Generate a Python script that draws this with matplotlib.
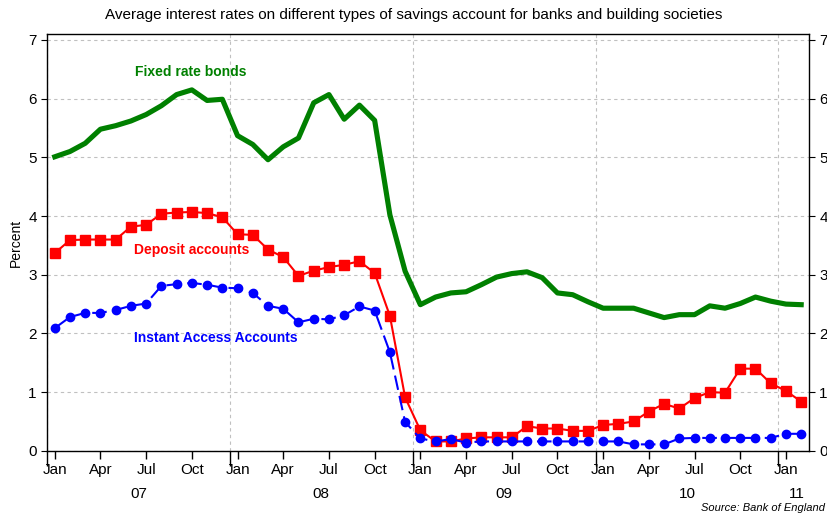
import numpy as np
import matplotlib.pyplot as plt
from matplotlib.transforms import blended_transform_factory

plt.rcParams['font.family'] = ['Liberation Sans', 'DejaVu Sans']

# monthly data, Jan 2007 .. Feb 2011
fixed_rate = [5.01, 5.10, 5.24, 5.48, 5.54, 5.62, 5.73, 5.88, 6.07, 6.15, 5.97, 5.99,
              5.37, 5.22, 4.96, 5.18, 5.33, 5.93, 6.07, 5.65, 5.89, 5.63, 4.02, 3.06,
              2.49, 2.62, 2.69, 2.71, 2.83, 2.96, 3.02, 3.05, 2.95, 2.69, 2.66, 2.54,
              2.43, 2.43, 2.43, 2.35, 2.27, 2.32, 2.32, 2.47, 2.43, 2.51, 2.62, 2.55,
              2.50, 2.49]
deposit = [3.37, 3.59, 3.60, 3.60, 3.60, 3.82, 3.85, 4.04, 4.06, 4.07, 4.05, 3.98,
           3.69, 3.68, 3.43, 3.30, 2.98, 3.07, 3.13, 3.17, 3.23, 3.03, 2.30, 0.91,
           0.35, 0.16, 0.16, 0.21, 0.23, 0.23, 0.23, 0.42, 0.38, 0.38, 0.34, 0.34,
           0.44, 0.46, 0.50, 0.67, 0.80, 0.72, 0.90, 1.00, 0.99, 1.40, 1.40, 1.15,
           1.02, 0.84]
instant = [2.09, 2.28, 2.35, 2.35, 2.40, 2.47, 2.51, 2.81, 2.84, 2.86, 2.83, 2.78,
           2.77, 2.69, 2.47, 2.42, 2.19, 2.25, 2.24, 2.31, 2.46, 2.39, 1.68, 0.49,
           0.21, 0.16, 0.20, 0.14, 0.16, 0.16, 0.16, 0.16, 0.16, 0.16, 0.16, 0.16,
           0.16, 0.16, 0.11, 0.11, 0.11, 0.21, 0.22, 0.22, 0.22, 0.22, 0.22, 0.22,
           0.29, 0.29]
quarter_labels = ['Jan', 'Apr', 'Jul', 'Oct']
year_labels = ['07', '08', '09', '10', '11']

months = np.arange(len(fixed_rate)) + 0.5

fig = plt.figure(figsize=(8.27, 5.17), dpi=100)
ax = fig.add_axes([0.057, 0.128, 0.921, 0.806])

ax.plot(months, fixed_rate, color='#008000', lw=3.7, zorder=3)
ax.plot(months, deposit, color='#ff0000', lw=1.5, marker='s', ms=6.8, zorder=4)
ax.plot(months, instant, color='#0000ff', lw=1.5, ls=(0, (7, 3)), marker='o', ms=6,
        zorder=5)

ax.set_xlim(0, 50)
ax.set_ylim(0, 7.1)
ax.set_yticks(range(8))
ax.grid(True, color='#c0c0c0', ls=(0, (3, 3)), lw=0.8)
ax.set_axisbelow(True)

# year boundaries as major ticks, quarter mid-months as labelled minor ticks
ax.set_xticks([0, 12, 24, 36, 48])
ax.set_xticklabels([])
ax.tick_params(axis='x', which='major', length=11, width=1)
qpos = [m + 0.5 for m in range(0, 50, 3)]
ax.set_xticks(qpos, minor=True)
ax.set_xticklabels([quarter_labels[(i // 3) % 4] for i in range(0, 50, 3)], minor=True)
ax.tick_params(axis='x', which='minor', length=6, width=1, labelsize=11, pad=3)
ax.tick_params(axis='y', labelsize=11, length=4, right=True, labelright=True)

trans = blended_transform_factory(ax.transData, ax.transAxes)
year_x = [6, 18, 30, 42, 49.2]
for xp, lab in zip(year_x, year_labels):
    ax.text(xp, -0.103, lab, transform=trans, ha='center', va='center', fontsize=11)

for s in ax.spines.values():
    s.set_linewidth(1)

ax.set_ylabel('Percent', fontsize=10, labelpad=4)

ax.text(9.4, 6.45, 'Fixed rate bonds', color='#008000', fontsize=10,
        fontweight='bold', ha='center', va='center')
ax.text(9.5, 3.42, 'Deposit accounts', color='#ff0000', fontsize=10,
        fontweight='bold', ha='center', va='center')
ax.text(11.1, 1.92, 'Instant Access Accounts', color='#0000ff', fontsize=10,
        fontweight='bold', ha='center', va='center')

fig.text(0.5, 0.971, 'Average interest rates on different types of savings account '
         'for banks and building societies', ha='center', va='center', fontsize=11)
fig.text(0.997, 0.018, 'Source: Bank of England', ha='right', va='center',
         fontsize=8, style='italic')

fig.savefig('out.png', dpi=100)
